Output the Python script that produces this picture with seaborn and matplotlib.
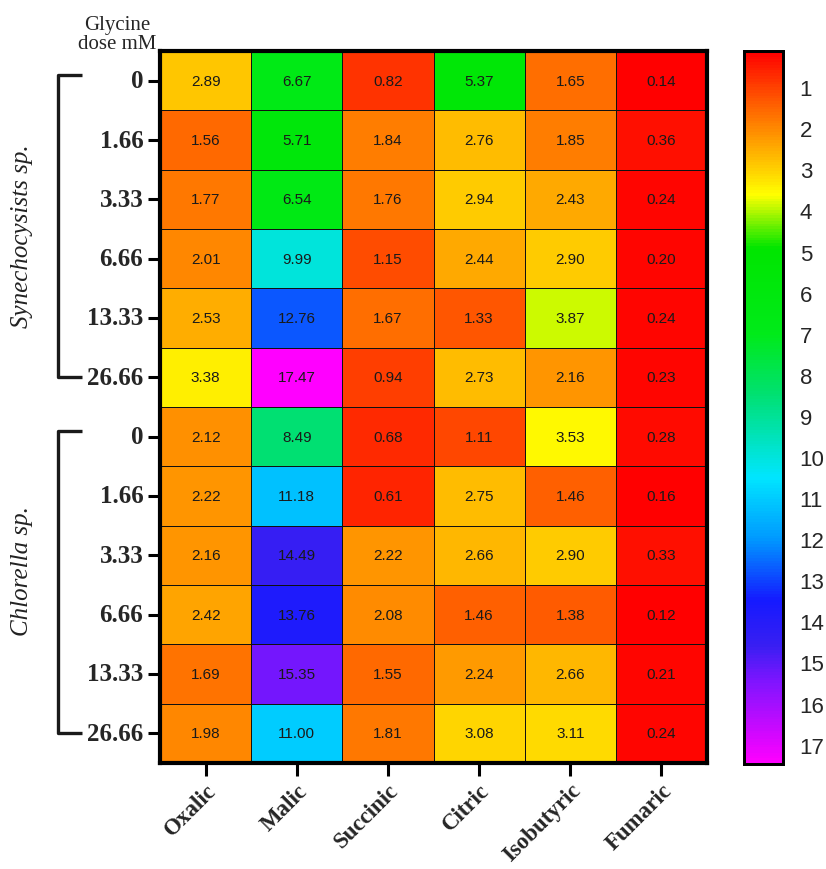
#Import dependencies
import pandas as pd
import numpy as np
import matplotlib.pyplot as plt
import matplotlib.transforms as mtransforms
from matplotlib.colors import LinearSegmentedColormap
import seaborn as sns

#Chart data
acids = ["Oxalic", "Malic", "Succinic", "Citric", "Isobutyric", "Fumaric"]
doses = ["0", "1.66", "3.33", "6.66", "13.33", "26.66"]
species = ["Synechocysists sp.", "Chlorella sp."]

# Synechocysists sp. (rows = glycine dose)
syn_oxalic = [2.89, 1.56, 1.77, 2.01, 2.53, 3.38]
syn_malic = [6.67, 5.71, 6.54, 9.99, 12.76, 17.47]
syn_succinic = [0.82, 1.84, 1.76, 1.15, 1.67, 0.94]
syn_citric = [5.37, 2.76, 2.94, 2.44, 1.33, 2.73]
syn_isobutyric = [1.65, 1.85, 2.43, 2.90, 3.87, 2.16]
syn_fumaric = [0.14, 0.36, 0.24, 0.20, 0.24, 0.23]

# Chlorella sp.
chl_oxalic = [2.12, 2.22, 2.16, 2.42, 1.69, 1.98]
chl_malic = [8.49, 11.18, 14.49, 13.76, 15.35, 11.00]
chl_succinic = [0.68, 0.61, 2.22, 2.08, 1.55, 1.81]
chl_citric = [1.11, 2.75, 2.66, 1.46, 2.24, 3.08]
chl_isobutyric = [3.53, 1.46, 2.90, 1.38, 2.66, 3.11]
chl_fumaric = [0.28, 0.16, 0.33, 0.12, 0.21, 0.24]

cbar_ticks = list(range(1, 18))

#Build the table for seaborn
Syn = pd.DataFrame({"Oxalic": syn_oxalic, "Malic": syn_malic, "Succinic": syn_succinic,
                    "Citric": syn_citric, "Isobutyric": syn_isobutyric, "Fumaric": syn_fumaric})
Chl = pd.DataFrame({"Oxalic": chl_oxalic, "Malic": chl_malic, "Succinic": chl_succinic,
                    "Citric": chl_citric, "Isobutyric": chl_isobutyric, "Fumaric": chl_fumaric})
Acids = pd.concat([Syn, Chl], ignore_index=True)[acids]
Acids.index = doses + doses

vmin = Acids.values.min()
vmax = Acids.values.max()

# rainbow colour map red -> yellow -> green -> cyan -> blue -> magenta
nodes = [(0.0, (1, 0, 0)), (1.0, (1, 0.26, 0)), (2.0, (1, 0.54, 0)), (3.0, (1, 0.82, 0)),
         (3.6, (1, 1, 0)), (4.9, (0, 0.9, 0)), (7.0, (0, 0.92, 0.1)), (8.5, (0, 0.88, 0.45)),
         (10.5, (0, 0.9, 1)), (12.0, (0, 0.6, 1)), (13.5, (0.08, 0.1, 1)), (14.6, (0.22, 0.12, 0.95)),
         (15.5, (0.5, 0.08, 1)), (vmax, (1, 0, 1))]
cmap = LinearSegmentedColormap.from_list(
    "rainbow_rev", [((v - vmin) / (vmax - vmin) if v > vmin else 0.0, c) for v, c in nodes])

#Draw the heatmap
sns.set_style("white")
plt.rcParams['font.family'] = ['Liberation Sans', 'DejaVu Sans']

fig = plt.figure(figsize=(8.26, 8.70), dpi=100)
ax = fig.add_axes([160/826, 1-764/870, 547/826, 712/870])
cax = fig.add_axes([744/826, 1-765/870, 39/826, 713/870])

sns.heatmap(Acids, ax=ax, cbar_ax=cax, cmap=cmap, vmin=vmin, vmax=vmax,
            annot=True, fmt=".2f", linewidths=0.5, linecolor="#111111",
            annot_kws={"size": 11, "color": "#1a1a1a"},
            cbar_kws={"ticks": cbar_ticks})

# thick frame
for s in ax.spines.values():
    s.set_visible(True)
    s.set_linewidth(3)
    s.set_color("black")

# tick labels
ax.set_yticklabels(doses + doses, rotation=0, family="Liberation Serif",
                   fontweight="bold", fontsize=18)
ax.set_xticklabels(acids, rotation=45, ha="right", rotation_mode="anchor",
                   family="Liberation Serif", fontweight="bold", fontsize=16.5)
ax.tick_params(axis="both", length=9, width=2.2, color="black", pad=3, left=True, bottom=True)
ax.set_xlabel("")
ax.set_ylabel("")

# colorbar styling
cax.invert_yaxis()
cax.tick_params(axis="y", direction="in", length=5, width=1.5, left=True, right=True,
                labelsize=16, pad=12)
for s in cax.spines.values():
    s.set_visible(True)
    s.set_linewidth(2)
    s.set_color("black")

# dose header
fig.text(117/826, 1-35/870, "Glycine\ndose mM", ha="center", va="center",
         family="Liberation Serif", fontsize=15, linespacing=1.05)

# species brackets
trans = mtransforms.blended_transform_factory(ax.transAxes, ax.transData)
for (y0, y1), name, ymid in zip([(0.4, 5.5), (6.4, 11.5)], species, [3.1, 8.75]):
    ax.plot([-0.1426, -0.1865, -0.1865, -0.1426], [y0, y0, y1, y1], color="#1a1a1a",
            lw=2.4, transform=trans, clip_on=False, solid_capstyle="butt")
    ax.text(-0.252, ymid, name, rotation=90, ha="center", va="center", transform=trans,
            family="Liberation Serif", style="italic", fontsize=18, color="#222222")

# Save png image
plt.savefig("out.png", dpi=100)
